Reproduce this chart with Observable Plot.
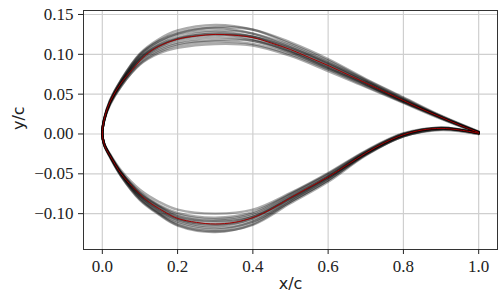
<!DOCTYPE html>
<html><head><meta charset="utf-8">
<script src="https://cdn.jsdelivr.net/npm/d3@7"></script>
<script src="https://cdn.jsdelivr.net/npm/@observablehq/plot@0.6"></script>
<style>body{margin:0;background:#fff}</style>
</head><body><div id="chart"></div>
<script>
// chordwise stations shared by the ensemble members
const X = [0, 0.005, 0.02, 0.05, 0.1, 0.15, 0.2, 0.3, 0.4, 0.5, 0.6, 0.7, 0.8, 0.9, 1.0];

// ensemble members: upper surface y/c at X
const upperMembers = [
  [0, 0.019, 0.042, 0.068, 0.101, 0.119, 0.130, 0.137, 0.131, 0.113, 0.092, 0.068, 0.045, 0.022, 0.003],
  [0, 0.017, 0.036, 0.060, 0.087, 0.101, 0.108, 0.113, 0.111, 0.098, 0.079, 0.059, 0.039, 0.019, 0.001],
  [0, 0.018, 0.040, 0.066, 0.097, 0.114, 0.124, 0.130, 0.126, 0.111, 0.090, 0.067, 0.044, 0.022, 0.002],
  [0, 0.018, 0.038, 0.062, 0.092, 0.107, 0.115, 0.121, 0.117, 0.102, 0.082, 0.062, 0.040, 0.020, 0.002],
  [0, 0.018, 0.040, 0.065, 0.096, 0.112, 0.121, 0.128, 0.122, 0.105, 0.085, 0.063, 0.042, 0.021, 0.002],
  [0, 0.018, 0.039, 0.063, 0.093, 0.109, 0.118, 0.124, 0.122, 0.108, 0.088, 0.065, 0.043, 0.021, 0.002],
  [0, 0.019, 0.041, 0.067, 0.099, 0.116, 0.126, 0.133, 0.126, 0.109, 0.089, 0.066, 0.043, 0.022, 0.002],
  [0, 0.018, 0.038, 0.062, 0.090, 0.105, 0.113, 0.118, 0.117, 0.104, 0.084, 0.063, 0.041, 0.021, 0.002],
  [0, 0.018, 0.039, 0.065, 0.095, 0.111, 0.120, 0.126, 0.122, 0.107, 0.087, 0.065, 0.042, 0.021, 0.002],
  [0, 0.018, 0.039, 0.064, 0.094, 0.110, 0.119, 0.125, 0.119, 0.103, 0.083, 0.062, 0.041, 0.020, 0.002],
  [0, 0.019, 0.041, 0.068, 0.100, 0.117, 0.127, 0.134, 0.131, 0.115, 0.094, 0.069, 0.046, 0.023, 0.003],
  [0, 0.017, 0.037, 0.060, 0.088, 0.103, 0.111, 0.116, 0.113, 0.100, 0.081, 0.060, 0.040, 0.020, 0.001]
];

// ensemble members: lower surface y/c at X
const lowerMembers = [
  [0, -0.014, -0.029, -0.053, -0.083, -0.101, -0.115, -0.123, -0.113, -0.085, -0.058, -0.026, -0.003, 0.006, 0.000],
  [0, -0.012, -0.025, -0.046, -0.070, -0.085, -0.095, -0.100, -0.095, -0.074, -0.049, -0.021, 0.001, 0.008, 0.002],
  [0, -0.013, -0.026, -0.049, -0.075, -0.091, -0.103, -0.109, -0.102, -0.078, -0.053, -0.023, 0.000, 0.007, 0.001],
  [0, -0.014, -0.028, -0.052, -0.081, -0.099, -0.112, -0.120, -0.110, -0.083, -0.056, -0.025, -0.002, 0.006, 0.001],
  [0, -0.013, -0.027, -0.051, -0.078, -0.096, -0.108, -0.116, -0.106, -0.080, -0.054, -0.024, -0.001, 0.007, 0.001],
  [0, -0.013, -0.027, -0.049, -0.076, -0.092, -0.104, -0.110, -0.104, -0.081, -0.055, -0.024, -0.001, 0.007, 0.001],
  [0, -0.013, -0.028, -0.052, -0.080, -0.098, -0.110, -0.118, -0.110, -0.085, -0.058, -0.026, -0.003, 0.006, 0.001],
  [0, -0.012, -0.026, -0.048, -0.074, -0.090, -0.101, -0.107, -0.100, -0.076, -0.051, -0.022, 0.000, 0.008, 0.001],
  [0, -0.013, -0.027, -0.050, -0.077, -0.094, -0.106, -0.113, -0.104, -0.079, -0.053, -0.024, -0.001, 0.007, 0.001],
  [0, -0.013, -0.027, -0.050, -0.078, -0.095, -0.107, -0.114, -0.107, -0.082, -0.055, -0.025, -0.002, 0.007, 0.001],
  [0, -0.012, -0.026, -0.048, -0.073, -0.089, -0.099, -0.105, -0.098, -0.075, -0.050, -0.022, 0.000, 0.008, 0.001],
  [0, -0.014, -0.028, -0.053, -0.082, -0.100, -0.114, -0.122, -0.114, -0.087, -0.060, -0.027, -0.003, 0.005, 0.000]
];

// mean shape (red)
const meanUpperX = [0, 0.005, 0.015, 0.03, 0.05, 0.08, 0.115, 0.15, 0.2, 0.25, 0.3, 0.35, 0.4, 0.45, 0.5, 0.55, 0.6, 0.65, 0.7, 0.75, 0.8, 0.85, 0.9, 0.95, 1.0];
const meanUpperY = [0, 0.018, 0.034, 0.049, 0.064, 0.081, 0.099, 0.110, 0.119, 0.123, 0.125, 0.124, 0.121, 0.114, 0.106, 0.096, 0.086, 0.075, 0.064, 0.053, 0.042, 0.031, 0.021, 0.011, 0.002];
const meanLowerX = [0, 0.005, 0.01, 0.02, 0.05, 0.08, 0.12, 0.17, 0.2, 0.25, 0.3, 0.35, 0.4, 0.45, 0.5, 0.55, 0.6, 0.65, 0.7, 0.75, 0.8, 0.85, 0.9, 0.95, 1.0];
const meanLowerY = [0, -0.013, -0.019, -0.027, -0.050, -0.066, -0.084, -0.099, -0.106, -0.111, -0.113, -0.111, -0.105, -0.094, -0.080, -0.067, -0.054, -0.039, -0.024, -0.011, -0.001, 0.005, 0.007, 0.005, 0.001];

const xTicks = [0, 0.2, 0.4, 0.6, 0.8, 1.0];
const yTicks = [-0.10, -0.05, 0, 0.05, 0.10, 0.15];
const xLabel = "x/c";
const yLabel = "y/c";

// build closed contours: trailing edge -> upper -> leading edge -> lower -> trailing edge
function contour(xu, yu, xl, yl, id) {
  const pts = [];
  for (let i = xu.length - 1; i >= 0; i--) pts.push({member: id, x: xu[i], y: yu[i]});
  for (let i = 1; i < xl.length; i++) pts.push({member: id, x: xl[i], y: yl[i]});
  return pts;
}
const gray = upperMembers.flatMap((u, k) => contour(X, u, X, lowerMembers[k], k));
const mean = contour(meanUpperX, meanUpperY, meanLowerX, meanLowerY, "mean");

const serif = "Liberation Serif";
const chart = Plot.plot({
  width: 503, height: 303,
  marginLeft: 83, marginRight: 6, marginTop: 10, marginBottom: 54,
  x: {domain: [-0.05, 1.05], label: null},
  y: {domain: [-0.145, 0.155], label: null},
  style: {fontFamily: serif, fontSize: "17px", background: "#fff", color: "#222"},
  marks: [
    Plot.gridX(xTicks, {stroke: "#cfcfcf", strokeOpacity: 1, strokeWidth: 1.2}),
    Plot.gridY(yTicks, {stroke: "#cfcfcf", strokeOpacity: 1, strokeWidth: 1.2}),
    Plot.line(gray, {x: "x", y: "y", z: "member", curve: "catmull-rom", stroke: "#000", strokeOpacity: 0.33, strokeWidth: 2.4}),
    Plot.line(mean, {x: "x", y: "y", curve: "catmull-rom", stroke: "#a00000", strokeWidth: 1}),
    Plot.frame({stroke: "#333"}),
    Plot.axisX(xTicks, {tickSize: 5, tickPadding: 5, tickFormat: d3.format(".1f"), label: null, fontSize: 17, fontFamily: serif}),
    Plot.axisY(yTicks, {tickSize: 5, tickPadding: 5, tickFormat: d3.format(".2f"), label: null, fontSize: 17, fontFamily: serif}),
    Plot.text([xLabel], {text: d => d, frameAnchor: "bottom", dy: 39, fontFamily: "DejaVu Sans", fontSize: 16, fill: "#222"}),
    Plot.text([yLabel], {text: d => d, frameAnchor: "left", dx: -65, rotate: -90, fontFamily: "DejaVu Sans", fontSize: 16, fill: "#222"})
  ]
});
document.getElementById("chart").append(chart);
</script>
</body></html>
